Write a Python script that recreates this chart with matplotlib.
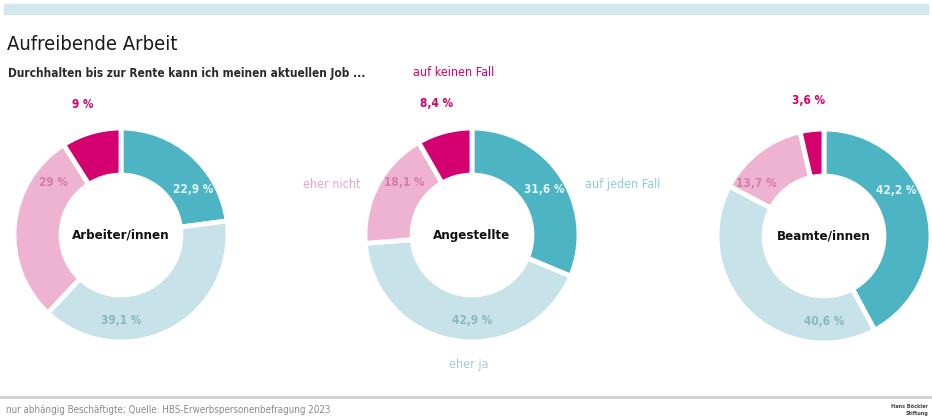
import matplotlib.pyplot as plt
from matplotlib.patches import Rectangle
from matplotlib.lines import Line2D
import numpy as np

plt.rcParams['font.family'] = ['DejaVu Sans']
plt.rcParams['font.stretch'] = 'condensed'

# data
groups = ['Arbeiter/innen', 'Angestellte', 'Beamte/innen']
answers = ['auf jeden Fall', 'eher ja', 'eher nicht', 'auf keinen Fall']
arbeiter = [22.9, 39.1, 29.0, 9.0]
angestellte = [31.6, 42.9, 18.1, 8.4]
beamte = [42.2, 40.6, 13.7, 3.6]
labels_arbeiter = ['22,9 %', '39,1 %', '29 %', '9 %']
labels_angestellte = ['31,6 %', '42,9 %', '18,1 %', '8,4 %']
labels_beamte = ['42,2 %', '40,6 %', '13,7 %', '3,6 %']

colors = ['#4db4c4', '#c7e2e8', '#eeb3d1', '#d5006f']
label_colors = ['#e3f4f7', '#86b8c5', '#d77aa8', '#d5006f']
answer_colors = ['#8fccd7', '#a9ccd5', '#eaa3c8', '#d5006f']

W, H = 932, 418
fig = plt.figure(figsize=(W / 100, H / 100), dpi=100)

# top band and bottom rule
fig.patches.append(Rectangle((4 / W, 1 - 14 / H), 924 / W, 10 / H,
                             transform=fig.transFigure, color='#d3e8ee', zorder=0))
fig.lines.append(Line2D([0, 1], [1 - 397 / H] * 2, transform=fig.transFigure,
                        color='#d2d2d2', lw=2))

fig.text(7 / W, 1 - 44 / H, 'Aufreibende Arbeit', fontsize=14.5, color='#1a1a1a',
         va='center', ha='left')
fig.text(8 / W, 1 - 73 / H, 'Durchhalten bis zur Rente kann ich meinen aktuellen Job ...',
         fontsize=8.5, fontweight='bold', color='#2a2a2a', va='center', ha='left')
fig.text(6 / W, 1 - 410 / H,
         'nur abhängig Beschäftigte; Quelle: HBS-Erwerbspersonenbefragung 2023',
         fontsize=7, color='#8a8a8a', va='center', ha='left')
fig.text(928 / W, 1 - 406 / H, 'Hans Böckler', fontsize=4, color='#444444',
         va='center', ha='right', fontweight='bold')
fig.text(928 / W, 1 - 413 / H, 'Stiftung', fontsize=4, color='#444444',
         va='center', ha='right', fontweight='bold')

R = 107  # donut radius in px
centers = [(121, 235), (472, 235), (824, 236)]
series = [arbeiter, angestellte, beamte]
pct_labels = [labels_arbeiter, labels_angestellte, labels_beamte]
label_angles = [32, -90, 142]

for name, vals, labs, (cx, cy) in zip(groups, series, pct_labels, centers):
    half = 1.5 * R
    ax = fig.add_axes([(cx - half) / W, (H - cy - half) / H, 2 * half / W, 2 * half / H])
    ax.pie(vals, colors=colors, startangle=90, counterclock=False, radius=1,
           wedgeprops=dict(width=0.44, edgecolor='white', linewidth=3.5))
    ax.set_xlim(-1.5, 1.5)
    ax.set_ylim(-1.5, 1.5)
    ax.set_aspect('equal')
    ax.axis('off')
    ax.text(0, 0, name, ha='center', va='center', fontsize=9.5, fontweight='bold',
            color='#111111')
    for lab, ang, col in zip(labs[:3], label_angles, label_colors[:3]):
        a = np.deg2rad(ang)
        ax.text(0.8 * np.cos(a), 0.8 * np.sin(a), lab, ha='center', va='center',
                fontsize=8.5, color=col, fontweight='bold')
    # last slice label above the donut
    start = 90 - sum(vals[:3]) / sum(vals) * 360
    mid = np.deg2rad(start - vals[3] / sum(vals) * 180)
    ax.text(1.27 * np.cos(mid), 1.27 * np.sin(mid), labs[3], ha='center', va='center',
            fontsize=8.5, color=label_colors[3], fontweight='bold', clip_on=False)
    if name == 'Angestellte':
        ax.text(-0.17, 1.52, answers[3], ha='center', va='center', fontsize=9,
                color=answer_colors[3], clip_on=False)
        ax.text(-1.04, 0.47, answers[2], ha='right', va='center', fontsize=9,
                color=answer_colors[2], clip_on=False)
        ax.text(1.06, 0.47, answers[0], ha='left', va='center', fontsize=9,
                color=answer_colors[0], clip_on=False)
        ax.text(-0.03, -1.21, answers[1], ha='center', va='center', fontsize=9,
                color=answer_colors[1], clip_on=False)

plt.savefig('out.png', dpi=100)
